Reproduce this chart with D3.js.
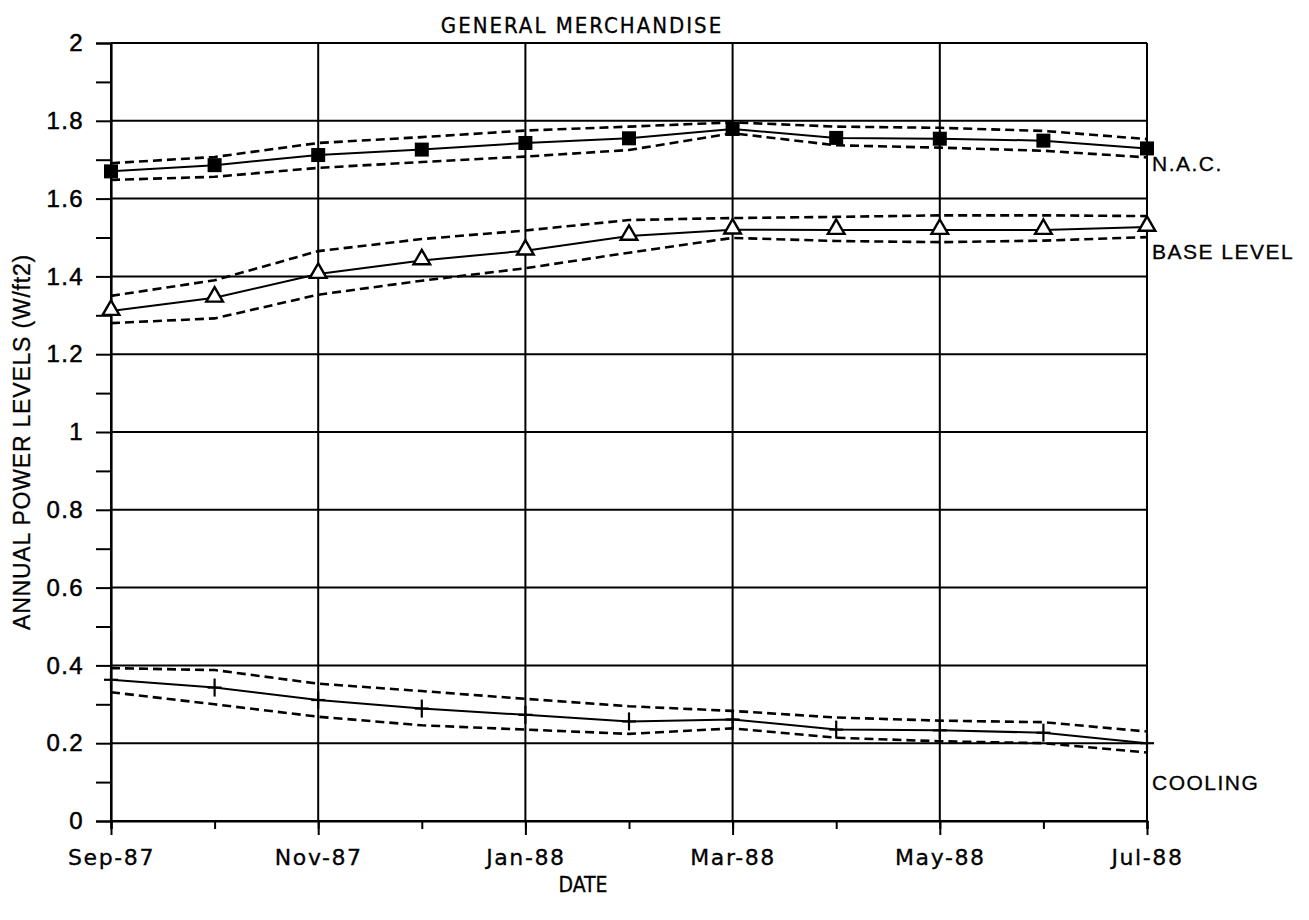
<!DOCTYPE html>
<html>
<head>
<meta charset="utf-8">
<script src="https://cdn.jsdelivr.net/npm/d3@7"></script>
<style>
  html, body { margin: 0; padding: 0; background: #fff; }
  svg { display: block; }
  text { fill: #000; }
</style>
</head>
<body>
<svg id="chart" width="1309" height="920"></svg>
<script>
// Monthly survey periods
const months = ["Sep-87", "Oct-87", "Nov-87", "Dec-87", "Jan-88", "Feb-88",
                "Mar-88", "Apr-88", "May-88", "Jun-88", "Jul-88"];
const labeledMonths = ["Sep-87", "Nov-87", "Jan-88", "Mar-88", "May-88", "Jul-88"];

// Annual power levels (W/ft2): estimate with upper / lower bounds
const nac    = [1.670, 1.686, 1.712, 1.726, 1.743, 1.755, 1.779, 1.756, 1.754, 1.749, 1.729];
const nacHi  = [1.691, 1.707, 1.743, 1.758, 1.775, 1.785, 1.796, 1.785, 1.782, 1.774, 1.753];
const nacLo  = [1.648, 1.656, 1.679, 1.694, 1.708, 1.725, 1.768, 1.737, 1.731, 1.723, 1.706];

const base   = [1.311, 1.345, 1.406, 1.441, 1.466, 1.504, 1.520, 1.519, 1.519, 1.519, 1.527];
const baseHi = [1.350, 1.390, 1.465, 1.496, 1.518, 1.545, 1.550, 1.553, 1.557, 1.557, 1.555];
const baseLo = [1.280, 1.292, 1.353, 1.389, 1.421, 1.461, 1.499, 1.491, 1.488, 1.492, 1.501];

const cool   = [0.363, 0.343, 0.311, 0.289, 0.273, 0.256, 0.261, 0.235, 0.233, 0.227, 0.200];
const coolHi = [0.393, 0.388, 0.353, 0.334, 0.314, 0.295, 0.283, 0.266, 0.258, 0.254, 0.230];
const coolLo = [0.331, 0.300, 0.268, 0.246, 0.235, 0.224, 0.238, 0.214, 0.205, 0.200, 0.176];

// Y axis ticks
const yMajor = [0, 0.2, 0.4, 0.6, 0.8, 1, 1.2, 1.4, 1.6, 1.8, 2];
const yMinor = [0.1, 0.3, 0.5, 0.7, 0.9, 1.1, 1.3, 1.5, 1.7, 1.9];

// Series names written at the right end, with the level they sit at
const seriesNames  = ["N.A.C.", "BASE LEVEL", "COOLING"];
const seriesLabelY = [1.69, 1.463, 0.098];

const SANS = "'Liberation Sans', Arial, sans-serif";
const COND = "'DejaVu Sans Condensed', 'DejaVu Sans', sans-serif";
const ROUND = "'DejaVu Sans', 'Liberation Sans', sans-serif";

const svg = d3.select("#chart");
const plotL = 111, plotR = 1147, plotT = 43, plotB = 821;

const x = d3.scalePoint().domain(months).range([plotL, plotR]);
const y = d3.scaleLinear().domain([0, 2]).range([plotB, plotT]);

const g = svg.append("g");

// Horizontal grid lines
g.append("g").selectAll("line").data(yMajor).join("line")
  .attr("x1", plotL).attr("x2", plotR)
  .attr("y1", d => y(d)).attr("y2", d => y(d))
  .attr("stroke", "#000").attr("stroke-width", 2);

// Vertical grid lines at labelled months
g.append("g").selectAll("line").data(labeledMonths).join("line")
  .attr("x1", d => x(d)).attr("x2", d => x(d))
  .attr("y1", plotT).attr("y2", plotB)
  .attr("stroke", "#000").attr("stroke-width", 2);

// Y axis: ticks outside, labels on the left
const yAxis = d3.axisLeft(y).tickValues(yMajor).tickSize(15).tickPadding(12)
  .tickFormat(d3.format("~g"));
const ya = g.append("g").attr("transform", `translate(${plotL},0)`).call(yAxis);
ya.select(".domain").attr("stroke", "#000").attr("stroke-width", 2.2);
ya.selectAll(".tick line").attr("stroke-width", 2);
ya.selectAll(".tick text")
  .style("font-family", SANS).style("font-size", "24px")
  .attr("letter-spacing", 1.4)
  .attr("stroke", "#000").attr("stroke-width", 0.5);

const yMinorAxis = d3.axisLeft(y).tickValues(yMinor).tickSize(15).tickFormat("");
const ym = g.append("g").attr("transform", `translate(${plotL},0)`).call(yMinorAxis);
ym.select(".domain").remove();
ym.selectAll(".tick line").attr("stroke-width", 2);

// X axis: short ticks every month, longer at labelled months
const xAxis = d3.axisBottom(x).tickSize(8).tickFormat("");
const xa = g.append("g").attr("transform", `translate(0,${plotB})`).call(xAxis);
xa.select(".domain").attr("stroke", "#000").attr("stroke-width", 2.2);
xa.selectAll(".tick line").attr("stroke-width", 2);

const xMajorAxis = d3.axisBottom(x).tickValues(labeledMonths).tickSize(14).tickPadding(10);
const xm = g.append("g").attr("transform", `translate(0,${plotB})`).call(xMajorAxis);
xm.select(".domain").remove();
xm.selectAll(".tick line").attr("stroke-width", 2);
xm.selectAll(".tick text")
  .style("font-family", ROUND).style("font-size", "22px")
  .attr("letter-spacing", 1.6)
  .attr("stroke", "#000").attr("stroke-width", 0.3)
  .attr("dy", "0.9em");

// Series: dashed bounds plus solid estimate line
const line = d3.line().x((d, i) => x(months[i])).y(d => y(d));

function drawSeries(vals, hi, lo) {
  [hi, lo].forEach(b => {
    g.append("path").datum(b).attr("d", line)
      .attr("fill", "none").attr("stroke", "#000")
      .attr("stroke-width", 2.6).attr("stroke-dasharray", "9,5");
  });
  g.append("path").datum(vals).attr("d", line)
    .attr("fill", "none").attr("stroke", "#000").attr("stroke-width", 2);
}
drawSeries(nac, nacHi, nacLo);
drawSeries(base, baseHi, baseLo);
drawSeries(cool, coolHi, coolLo);

// N.A.C. markers: filled squares
g.append("g").selectAll("rect").data(nac).join("rect")
  .attr("x", (d, i) => x(months[i]) - 7).attr("y", d => y(d) - 7)
  .attr("width", 14).attr("height", 14).attr("fill", "#000");

// Base level markers: open triangles
const tri = d3.symbol().type(d3.symbolTriangle).size(120);
g.append("g").selectAll("path").data(base).join("path")
  .attr("d", tri)
  .attr("transform", (d, i) => `translate(${x(months[i])},${y(d) - 1})`)
  .attr("fill", "#fff").attr("stroke", "#000").attr("stroke-width", 2.4);

// Cooling markers: plus signs
const cross = g.append("g").selectAll("g").data(cool).join("g")
  .attr("transform", (d, i) => `translate(${x(months[i])},${y(d)})`);
cross.append("line").attr("x1", 0).attr("x2", 0).attr("y1", -9).attr("y2", 9)
  .attr("stroke", "#000").attr("stroke-width", 2.2);
cross.append("line").attr("x1", -7).attr("x2", 7).attr("y1", 0).attr("y2", 0)
  .attr("stroke", "#000").attr("stroke-width", 2.2);

// Series names
g.append("g").selectAll("text").data(seriesNames).join("text")
  .attr("x", plotR + 5)
  .attr("y", (d, i) => y(seriesLabelY[i]))
  .attr("dy", "0.36em")
  .style("font-family", SANS).style("font-size", "21px")
  .attr("letter-spacing", 1.5)
  .attr("stroke", "#000").attr("stroke-width", 0.3)
  .text(d => d);

// Title and axis titles
svg.append("text").attr("x", 582).attr("y", 33)
  .attr("text-anchor", "middle")
  .style("font-family", COND).style("font-size", "22px")
  .attr("letter-spacing", 2)
  .attr("stroke", "#000").attr("stroke-width", 0.3)
  .text("GENERAL MERCHANDISE");

svg.append("text").attr("x", 583).attr("y", 892)
  .attr("text-anchor", "middle")
  .style("font-family", COND).style("font-size", "21px")
  .attr("stroke", "#000").attr("stroke-width", 0.3)
  .text("DATE");

svg.append("text")
  .attr("transform", "translate(30,442) rotate(-90)")
  .attr("text-anchor", "middle")
  .style("font-family", SANS).style("font-size", "23px")
  .attr("letter-spacing", 0.8)
  .attr("stroke", "#000").attr("stroke-width", 0.3)
  .text("ANNUAL POWER LEVELS (W/ft2)");
</script>
</body>
</html>
